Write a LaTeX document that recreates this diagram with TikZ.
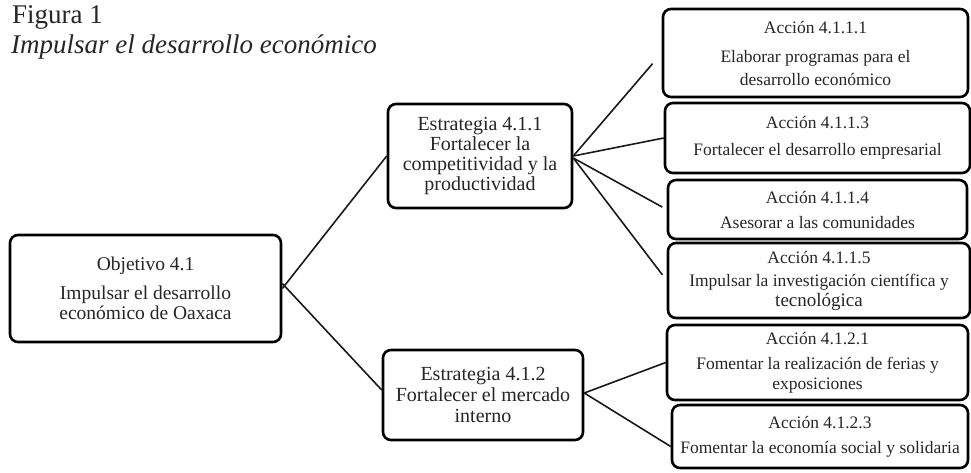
\documentclass[tikz,border=0pt]{standalone}
\usepackage{fontspec}
\setmainfont{Liberation Serif}
\begin{document}
\begin{tikzpicture}[x=1pt,y=-1pt,
  box/.style={draw=black, line width=2.6pt, rounded corners=8pt, fill=white,
    align=center, inner sep=0pt, text=black!85},
  actfont/.style={font=\fontsize{17.5}{22}\selectfont},
  strfont/.style={font=\fontsize{20}{20}\selectfont},
  link/.style={draw=black!90, line width=1.6pt}]
\useasboundingbox (0,0) rectangle (971,472);
% titles
\node[anchor=base west, inner sep=0pt, font=\fontsize{27}{30}\selectfont, text=black!85] (fig) at (12,23) {Figura 1};
\node[anchor=base west, inner sep=0pt, font=\fontsize{27}{30}\selectfont\itshape, text=black!85] (tit) at (11,53) {Impulsar el desarrollo económico};
% objective
\node[box, minimum width=271pt, minimum height=107pt, font=\fontsize{19.5}{19.5}\selectfont] (obj) at (145.5,288.5)
  {Objetivo 4.1\\[9.5pt] Impulsar el desarrollo\\ económico de Oaxaca};
% strategies
\node[box, strfont, minimum width=184pt, minimum height=104pt] (e1) at (480,156)
  {Estrategia 4.1.1\\ Fortalecer la\\ competitividad y la\\ productividad};
\node[box, font=\fontsize{20}{21}\selectfont, minimum width=200pt, minimum height=90pt] (e2) at (483,395)
  {Estrategia 4.1.2\\ Fortalecer el mercado\\ interno};
% actions
\node[box, actfont, minimum width=305pt, minimum height=88pt] (a1) at (815.5,53)
  {Acción 4.1.1.1\\[7pt] Elaborar programas para el\\[1pt] desarrollo económico};
\node[box, actfont, minimum width=305pt, minimum height=70pt] (a3) at (817.5,138)
  {Acción 4.1.1.3\\[5pt] Fortalecer el desarrollo empresarial};
\node[box, actfont, minimum width=299pt, minimum height=59pt] (a4) at (817.5,209.5)
  {Acción 4.1.1.4\\[3pt] Asesorar a las comunidades};
\node[box, actfont, minimum width=302pt, minimum height=75pt] (a5) at (819,280.5)
  {Acción 4.1.1.5\\[1pt] Impulsar la investigación científica y\\[-2pt] {\fontsize{19}{22}\selectfont tecnológica}};
\node[box, actfont, minimum width=301pt, minimum height=75pt] (a21) at (817.5,362.5)
  {Acción 4.1.2.1\\[3pt] Fomentar la realización de ferias y\\[-2pt] exposiciones};
\node[box, actfont, minimum width=296pt, minimum height=63pt] (a23) at (820,436.5)
  {Acción 4.1.2.3\\[3pt] Fomentar la economía social y solidaria};
% connectors
\draw[link] (obj.east) -- (e1.west);
\draw[link] ([yshift=5pt]obj.east) -- ([yshift=5pt]e2.west);
\draw[link, shorten >=14pt] (e1.east) -- (a1.west);
\draw[link] (e1.east) -- (a3.west);
\draw[link, shorten >=5pt] ([yshift=-2pt]e1.east) -- (a4.west);
\draw[link, shorten >=7pt] ([yshift=-2pt]e1.east) -- (a5.west);
\draw[link] ([yshift=2pt]e2.east) -- (a21.west);
\draw[link] ([yshift=2pt]e2.east) -- ([yshift=-10pt]a23.west);
\end{tikzpicture}
\end{document}
